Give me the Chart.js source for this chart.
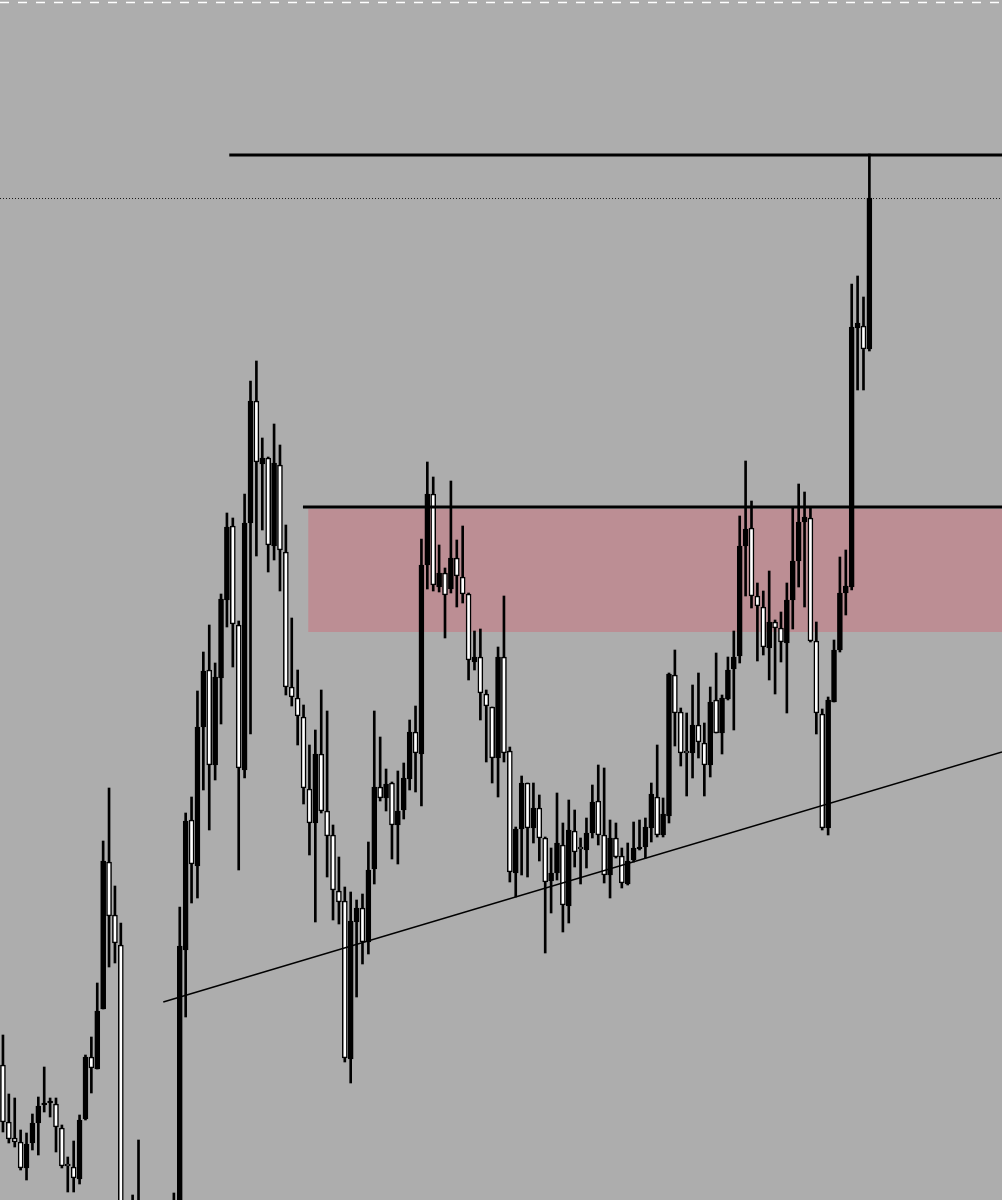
<!DOCTYPE html>
<html>
<head>
<meta charset="utf-8">
<script src="https://cdn.jsdelivr.net/npm/chart.js@4"></script>
<style>
  html, body { margin: 0; padding: 0; background: #adadad; }
  canvas { display: block; }
</style>
</head>
<body>
<canvas id="candleChart" width="1002" height="1200"></canvas>
<script>
// Candle data, oldest first (price units)
const opens = [335, 278, 262, 258, 232, 257, 277, 295, 297, 296, 272, 235, 233, 221, 281, 343, 331, 391, 538, 485,
  455, 160, 110, 130, 185, 120, 70, 110, 75, 100, 150, 450, 580, 534, 673, 730, 635, 722, 800, 874,
  775, 630, 877, 999, 936, 942, 854, 935, 848, 713, 702, 683, 611, 577, 646, 589, 565, 509, 499, 341,
  478, 492, 458, 531, 613, 602, 617, 575, 590, 621, 668, 646, 835, 906, 813, 827, 811, 842, 823, 806,
  738, 743, 706, 693, 642, 743, 649, 527, 571, 617, 572, 592, 562, 519, 527, 555, 494, 569, 551, 550,
  567, 599, 565, 525, 562, 544, 516, 540, 551, 553, 572, 603, 565, 584, 725, 688, 647, 647, 675, 657,
  635, 700, 667, 701, 731, 744, 854, 872, 804, 793, 752, 778, 772, 757, 800, 839, 878, 882, 759, 686,
  572, 698, 750, 807, 813, 1072, 1074, 1051];
const highs = [365, 306, 302, 270, 267, 286, 303, 333, 302, 302, 275, 243, 259, 285, 345, 363, 417, 559, 612, 514,
  477, 185, 205, 260, 195, 150, 130, 140, 120, 207, 493, 587, 603, 709, 748, 775, 737, 806, 887, 882,
  779, 906, 1019, 1039, 962, 943, 976, 955, 875, 782, 730, 695, 655, 670, 710, 689, 575, 543, 513, 508,
  500, 506, 558, 689, 663, 631, 618, 629, 637, 680, 694, 861, 938, 923, 855, 832, 919, 860, 874, 807,
  769, 771, 710, 693, 753, 804, 653, 573, 624, 617, 617, 605, 563, 552, 607, 577, 600, 590, 562, 582,
  615, 635, 632, 580, 577, 552, 557, 578, 580, 582, 617, 655, 602, 727, 750, 692, 687, 715, 727, 677,
  713, 747, 705, 743, 769, 884, 939, 899, 817, 809, 829, 780, 788, 817, 893, 916, 908, 893, 778, 691,
  703, 760, 843, 850, 1116, 1124, 1103, 1246];
const lows = [268, 257, 253, 230, 220, 250, 245, 288, 283, 248, 232, 208, 208, 216, 280, 307, 331, 391, 433, 437,
  150, 100, 95, 110, 100, 60, 40, 55, 60, 90, 140, 383, 497, 502, 610, 570, 620, 676, 773, 733,
  530, 622, 666, 844, 870, 828, 840, 809, 705, 694, 655, 596, 545, 478, 587, 523, 480, 476, 338, 317,
  403, 436, 446, 516, 599, 589, 541, 536, 581, 610, 608, 594, 811, 809, 808, 762, 807, 793, 797, 720,
  730, 680, 638, 617, 603, 638, 518, 503, 525, 523, 557, 539, 447, 487, 520, 468, 477, 533, 516, 532,
  562, 555, 517, 502, 542, 512, 515, 538, 550, 542, 558, 563, 563, 577, 654, 634, 604, 622, 642, 604,
  623, 667, 646, 700, 670, 737, 804, 792, 739, 745, 720, 706, 738, 687, 771, 813, 793, 758, 666, 570,
  565, 698, 748, 785, 810, 1010, 1010, 1049];
const closes = [278, 261, 258, 232, 256, 277, 294, 297, 298, 273, 234, 234, 222, 280, 343, 332, 389, 539, 484, 457,
  160, 110, 165, 190, 120, 80, 110, 70, 100, 150, 454, 579, 536, 673, 729, 635, 723, 801, 873, 776,
  632, 877, 999, 938, 942, 855, 937, 850, 713, 703, 684, 612, 577, 646, 589, 564, 510, 498, 342, 479,
  492, 458, 530, 613, 602, 616, 575, 589, 622, 668, 647, 835, 906, 815, 827, 805, 842, 824, 806, 740,
  743, 707, 694, 642, 743, 647, 528, 571, 617, 572, 592, 562, 518, 527, 557, 495, 570, 548, 551, 567,
  598, 565, 525, 562, 543, 517, 539, 552, 553, 573, 606, 565, 586, 726, 687, 647, 647, 675, 658, 635,
  698, 667, 702, 730, 743, 854, 871, 804, 794, 753, 778, 772, 758, 800, 839, 878, 883, 759, 687, 572,
  700, 750, 807, 814, 1073, 1077, 1051, 1202];

// Drawn objects on the chart
const levelPrices = [1245, 893];
const levelStarts = [38.4, 50.9];
const zoneTop = 891;
const zoneBottom = 768;
const zoneStart = 51.8;
const trendIdx = [27.2, 169.5];
const trendPrice = [398, 648];

const slotCount = 170;
const labels = Array.from({ length: slotCount }, (_, i) => i + 1);

const overlay = {
  id: "overlay",
  beforeDraw(chart) {
    const { ctx, chartArea: a, scales: { x, y } } = chart;
    ctx.save();
    ctx.fillStyle = "#adadad";
    ctx.fillRect(0, 0, chart.width, chart.height);
    // supply zone
    ctx.fillStyle = "#bc8e94";
    const zx = x.getPixelForValue(zoneStart);
    ctx.fillRect(zx, y.getPixelForValue(zoneTop), a.right - zx, y.getPixelForValue(zoneBottom) - y.getPixelForValue(zoneTop));
    // white dashed top border
    ctx.strokeStyle = "#ffffff";
    ctx.lineWidth = 1.5;
    ctx.setLineDash([9, 9]);
    ctx.beginPath();
    ctx.moveTo(0, 2.5);
    ctx.lineTo(a.right, 2.5);
    ctx.stroke();
    // current price (last close), dotted
    ctx.strokeStyle = "#1a1a1a";
    ctx.lineWidth = 1;
    ctx.setLineDash([1, 2]);
    const py = Math.round(y.getPixelForValue(closes[closes.length - 1])) + 0.5;
    ctx.beginPath();
    ctx.moveTo(0, py);
    ctx.lineTo(a.right, py);
    ctx.stroke();
    ctx.restore();
  },
  afterDatasetsDraw(chart) {
    const { ctx, chartArea: a, scales: { x, y } } = chart;
    ctx.save();
    ctx.strokeStyle = "#000000";
    ctx.lineWidth = 3;
    levelPrices.forEach((p, i) => {
      const ly = y.getPixelForValue(p);
      ctx.beginPath();
      ctx.moveTo(x.getPixelForValue(levelStarts[i]), ly);
      ctx.lineTo(a.right, ly);
      ctx.stroke();
    });
    // rising trendline
    ctx.lineWidth = 1.5;
    ctx.beginPath();
    ctx.moveTo(x.getPixelForValue(trendIdx[0]), y.getPixelForValue(trendPrice[0]));
    ctx.lineTo(x.getPixelForValue(trendIdx[1]), y.getPixelForValue(trendPrice[1]));
    ctx.stroke();
    ctx.restore();
  }
};

const ctxCandle = document.getElementById("candleChart");
new Chart(ctxCandle, {
  type: "bar",
  data: {
    labels: labels,
    datasets: [{
      label: "Wicks",
      data: highs.map((h, i) => [lows[i], h]),
      backgroundColor: "#000000",
      barThickness: 2,
      grouped: false,
      order: 2
    }, {
      label: "Bodies",
      data: opens.map((o, i) => [o, closes[i]]),
      // black = up candle, white = down candle
      backgroundColor: opens.map((o, i) => closes[i] > o ? "#000000" : "#ffffff"),
      borderColor: "#000000",
      borderWidth: 1.5,
      borderSkipped: false,
      barThickness: 5,
      minBarLength: 2,
      grouped: false,
      order: 1
    }]
  },
  options: {
    responsive: false,
    animation: false,
    layout: { padding: 0 },
    plugins: { legend: { display: false }, tooltip: { enabled: false } },
    scales: {
      x: { display: false, offset: true, grid: { display: false } },
      y: { display: false, min: 200, max: 1400, grid: { display: false } }
    }
  },
  plugins: [overlay]
});
</script>
</body>
</html>
